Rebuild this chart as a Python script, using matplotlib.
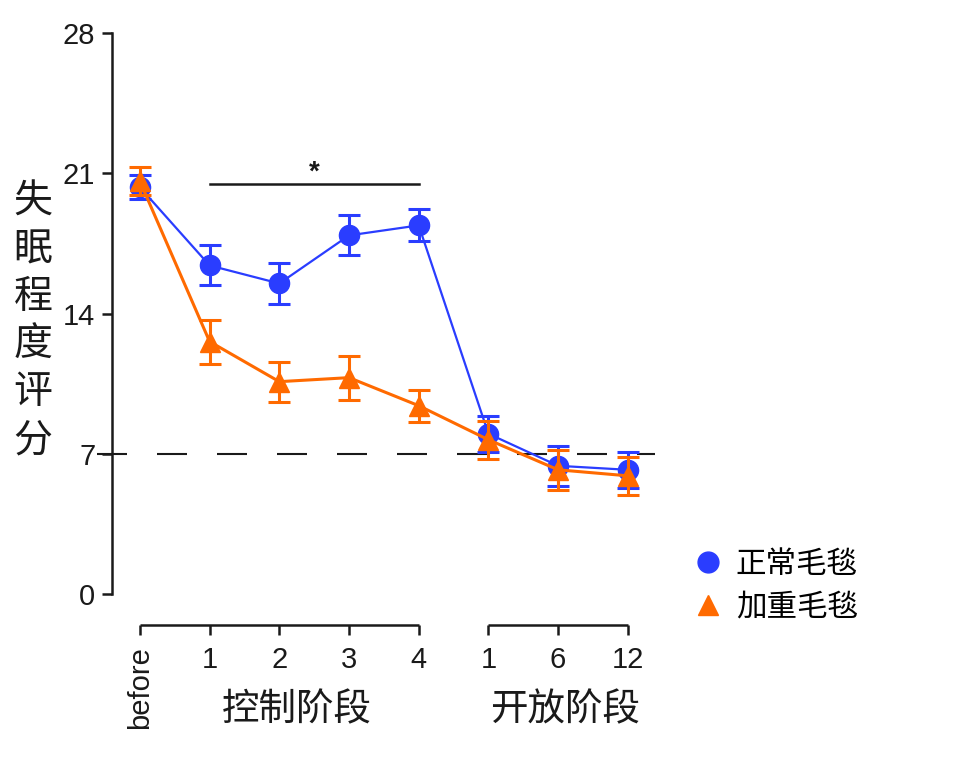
import matplotlib
matplotlib.use("Agg")
import matplotlib.pyplot as plt
from matplotlib.lines import Line2D
import numpy as np

plt.rcParams['font.family'] = ['Liberation Sans', 'Noto Sans CJK SC', 'DejaVu Sans']

# data
time_labels = ['before', '1', '2', '3', '4', '1', '6', '12']
normal_mean = [20.3, 16.4, 15.5, 17.9, 18.4, 8.0, 6.4, 6.2]
normal_err = [0.6, 1.0, 1.0, 1.0, 0.8, 0.9, 1.0, 0.9]
weighted_mean = [20.6, 12.6, 10.6, 10.8, 9.4, 7.7, 6.2, 5.9]
weighted_err = [0.7, 1.1, 1.0, 1.1, 0.8, 0.95, 1.0, 0.95]
series_names = ['正常毛毯', '加重毛毯']
phase_names = ['控制阶段', '开放阶段']
ylabel_text = '失眠程度评分'
cutoff = 7
sig_span = (1, 4)
sig_level = 20.45

blue = '#2a3dff'
orange = '#ff6a00'
dark = '#1a1a1a'

fig = plt.figure(figsize=(9.6, 7.65), dpi=100)
ax = fig.add_axes([0.1167, 0.2235, 0.5656, 0.7333])

x = np.arange(len(time_labels))

# dashed cutoff line, starts a little left of the y axis like the original
ax.plot([-0.0276, 1], [cutoff, cutoff], transform=ax.get_yaxis_transform(), color=dark,
        lw=1.5, linestyle=(0, (14.4, 14.4)), clip_on=False, zorder=1)

ax.errorbar(x, normal_mean, yerr=normal_err, fmt='-o', color=blue, ms=14.5, lw=1.6,
            elinewidth=2.2, capsize=8, capthick=2.2, zorder=3)
ax.errorbar(x, weighted_mean, yerr=weighted_err, fmt='-^', color=orange, ms=15, lw=2.2,
            elinewidth=2.2, capsize=8, capthick=2.2, zorder=4)

# significance bar over the control phase
ax.plot(sig_span, [sig_level, sig_level], color=dark, lw=1.8)
ax.text(np.mean(sig_span), sig_level + 0.6, '*', ha='center', va='center', fontsize=20,
        color=dark, fontweight='bold')

ax.set_xlim(-0.4, 7.39)
ax.set_ylim(0, 28)
ax.set_yticks([0, 7, 14, 21, 28])
ax.set_xticks(x)
ax.set_xticklabels(time_labels)

for side in ['top', 'right']:
    ax.spines[side].set_visible(False)
for side in ['left', 'bottom']:
    ax.spines[side].set_linewidth(1.8)
    ax.spines[side].set_color(dark)
ax.spines['bottom'].set_position(('outward', 22.3))
ax.spines['bottom'].set_bounds(0, 4)
ax.spines['bottom'].set_capstyle('butt')

# second piece of the broken x axis
ax.plot([5, 7], [-0.0553, -0.0553], transform=ax.get_xaxis_transform(), color=dark,
        lw=1.8, clip_on=False, solid_capstyle='butt')

ax.tick_params(axis='both', direction='out', length=7, width=1.8, color=dark,
               labelsize=21, labelcolor=dark)
ax.tick_params(axis='y', pad=5)
ax.tick_params(axis='x', pad=8)

# phase labels under the axis
ax.text(2.25, -0.207, phase_names[0], transform=ax.get_xaxis_transform(),
        ha='center', va='center', fontsize=27, color=dark)
ax.text(6.1, -0.207, phase_names[1], transform=ax.get_xaxis_transform(),
        ha='center', va='center', fontsize=27, color=dark)

# vertical stacked y label
for i, ch in enumerate(ylabel_text):
    fig.text(33 / 960, 1 - (203 + 47.6 * i) / 765, ch, ha='center', va='center',
             fontsize=28, color=dark)

handles = [Line2D([], [], marker='o', color=blue, ls='none', ms=15),
           Line2D([], [], marker='^', color=orange, ls='none', ms=15)]
fig.legend(handles, series_names, loc='upper left', bbox_to_anchor=(693 / 960, 1 - 550 / 765),
           frameon=False, fontsize=22, handlelength=1.0, handletextpad=0.4,
           labelspacing=0.42, borderpad=0, borderaxespad=0)

# rotate the "before" label last, tick_params resets label rotation
fig.canvas.draw()
ax.xaxis.get_major_ticks()[0].label1.set_rotation(90)

fig.savefig('out.png', dpi=100, facecolor='white')
